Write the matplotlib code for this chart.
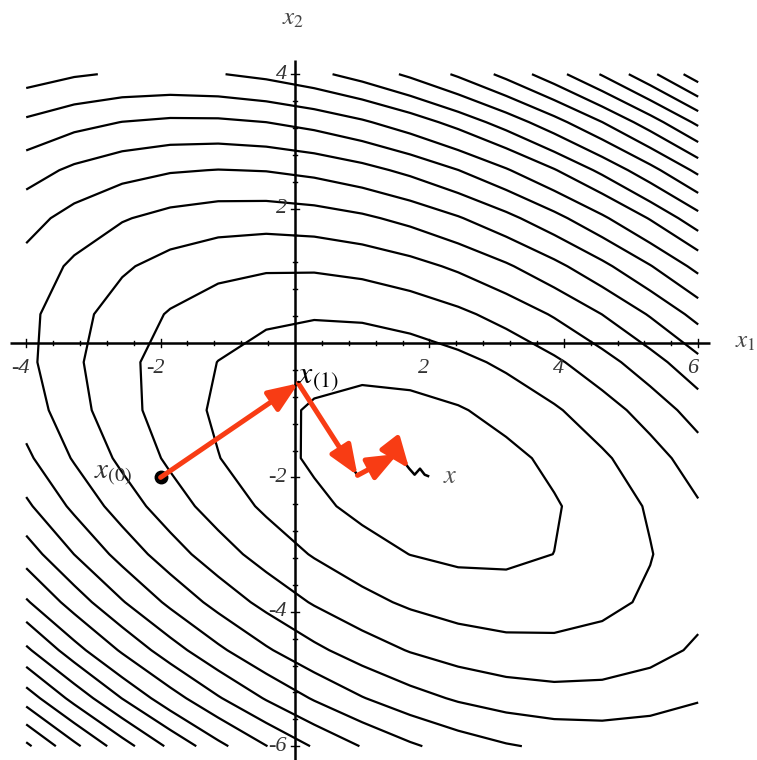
import numpy as np
import matplotlib
matplotlib.use("Agg")
import matplotlib.pyplot as plt

plt.rcParams['mathtext.fontset'] = 'stix'
plt.rcParams['font.family'] = ['Liberation Serif', 'DejaVu Serif']

# Quadratic form f(x) = 1/2 x^T A x - b^T x
A = np.array([[3.0, 2.0], [2.0, 6.0]])
b = np.array([2.0, -8.0])
levels = [-5.2, 3, 12, 21, 30, 39, 48, 57, 66, 75.5, 84, 93, 102, 111, 120,
          129, 138, 147, 156, 165]
x_range = [-4.0, 6.0]
y_range = [-6.0, 4.0]
grid_points = 15

# steepest descent iterates
path_x = [-2.0, 0.05, 0.93, 1.53, 1.70, 1.78, 1.86, 1.93, 1.98]
path_y = [-2.0, -0.60, -1.97, -1.65, -1.87, -1.96, -1.87, -1.96, -1.98]
n_red = 4

xticks = [-4, -2, 2, 4, 6]
yticks = [-6, -4, -2, 2, 4]

red = '#f83c14'

fig = plt.figure(figsize=(7.57, 7.60), dpi=100)
ax = fig.add_axes([0, 0, 1, 1])
s = 67.2
ax.set_xlim(-295 / s, (757 - 295) / s)
ax.set_ylim(-(760 - 343) / s, 343 / s)

gx = np.linspace(x_range[0], x_range[1], grid_points)
gy = np.linspace(y_range[0], y_range[1], grid_points)
X, Y = np.meshgrid(gx, gy)
Z = 0.5 * (A[0, 0] * X**2 + 2 * A[0, 1] * X * Y + A[1, 1] * Y**2) - b[0] * X - b[1] * Y
ax.contour(X, Y, Z, levels=levels, colors='black', linewidths=1.6,
           linestyles='solid')

# axes lines
ax.plot([-4.24, 6.18], [0, 0], color='black', lw=1.8, solid_capstyle='butt')
ax.plot([0, 0], [-6.3, 4.21], color='black', lw=1.8, solid_capstyle='butt')
minor = np.arange(-4.0, 6.01, 0.4)
for t in minor:
    if abs(t) < 1e-9:
        continue
    ln = 0.06 if abs(t - round(t / 2) * 2) < 1e-6 else 0.035
    ax.plot([t, t], [-ln, ln], color='black', lw=1.0)
minor_y = np.arange(-6.0, 4.01, 0.4)
for t in minor_y:
    if abs(t) < 1e-9:
        continue
    ln = 0.06 if abs(t - round(t / 2) * 2) < 1e-6 else 0.035
    ax.plot([-ln, ln], [t, t], color='black', lw=1.0)

for t in xticks:
    ax.text(t - 0.08, -0.24, str(t), ha='center', va='top',
            fontsize=16, style='italic', color='#333333')
for t in yticks:
    ax.text(-0.12, t, str(t), ha='right', va='center',
            fontsize=16, style='italic', color='#333333')

ax.text(6.55, 0.02, r'$x_1$', ha='left', va='center', fontsize=18, color='#444444')
ax.text(-0.03, 4.82, r'$x_2$', ha='center', va='center', fontsize=18, color='#444444')

# path
ax.plot(path_x, path_y, color='black', lw=1.8)
for i in range(n_red):
    ax.annotate('', xy=(path_x[i + 1], path_y[i + 1]), xytext=(path_x[i], path_y[i]),
                arrowprops=dict(arrowstyle='-|>,head_length=0.9,head_width=0.36',
                                color=red, lw=3.6, shrinkA=0, shrinkB=0,
                                mutation_scale=20))
ax.plot([path_x[0]], [path_y[0]], 'o', color='black', markersize=9)

ax.text(-2.42, -1.96, r'$x_{(0)}$', ha='right', va='center', fontsize=21, color='#333333')
ax.text(0.03, -0.6, r'$x_{(1)}$', ha='left', va='baseline', fontsize=23, color='black')
ax.text(2.2, -2.0, r'$x$', ha='left', va='center', fontsize=19, color='#555555')

ax.axis('off')
fig.savefig('out.png', dpi=100)
